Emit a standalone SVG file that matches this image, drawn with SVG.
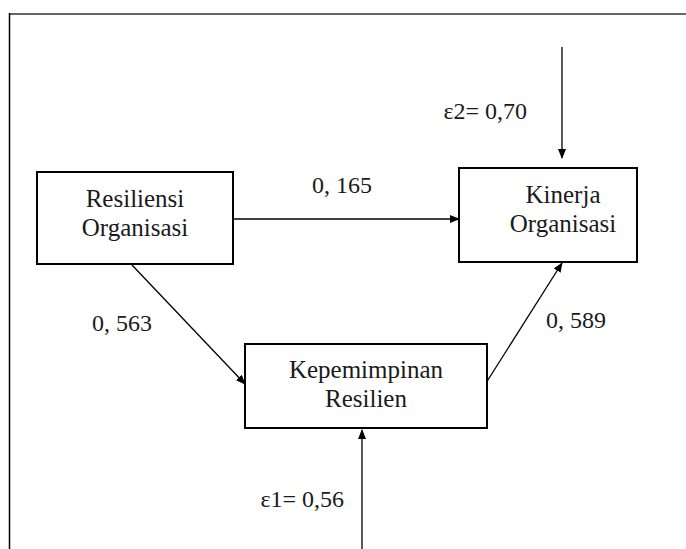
<svg xmlns="http://www.w3.org/2000/svg" width="686" height="549" viewBox="0 0 686 549">
<defs>
<marker id="ah" markerWidth="10" markerHeight="8" refX="9" refY="4" orient="auto" markerUnits="userSpaceOnUse">
<path d="M0,0 L10,4 L0,8 Z" fill="#000"/>
</marker>
<style>
.box{fill:#fff;stroke:#000;stroke-width:2}
.t{font-size:25px;fill:#1a1a1a}
.lbl{font-size:24px;fill:#1a1a1a}
.c{stroke:#000;stroke-width:1.3;fill:none;marker-end:url(#ah)}
</style>
</defs>
<rect width="686" height="549" fill="#fff"/>
<line x1="9" y1="14" x2="686" y2="14" stroke="#666" stroke-width="2"/>
<line x1="9.5" y1="13" x2="9.5" y2="549" stroke="#000" stroke-width="1.5"/>
<g id="connectors">
<line class="c" x1="233" y1="219" x2="459" y2="219"/>
<line class="c" x1="132" y1="265" x2="245" y2="384"/>
<line class="c" x1="486" y1="383" x2="562" y2="263"/>
<line class="c" x1="562" y1="47" x2="562" y2="158"/>
<line class="c" x1="362" y1="549" x2="362" y2="430"/>
</g>
<g font-family="'Liberation Serif', 'DejaVu Serif', serif">
<g id="resiliensi">
<rect class="box" x="37" y="172" width="196" height="92"/>
<text class="t" x="135" y="207" text-anchor="middle">Resiliensi</text>
<text class="t" x="135" y="236" text-anchor="middle">Organisasi</text>
</g>
<g id="kinerja">
<rect class="box" x="459" y="168" width="178" height="94"/>
<text class="t" x="563" y="203" text-anchor="middle">Kinerja</text>
<text class="t" x="563" y="232" text-anchor="middle">Organisasi</text>
</g>
<g id="kepemimpinan">
<rect class="box" x="245" y="344" width="242" height="84"/>
<text class="t" x="366" y="378" text-anchor="middle">Kepemimpinan</text>
<text class="t" x="366" y="407" text-anchor="middle">Resilien</text>
</g>
<g id="labels">
<text class="lbl" x="312" y="193">0, 165</text>
<text class="lbl" x="92" y="331">0, 563</text>
<text class="lbl" x="546" y="328">0, 589</text>
<text class="lbl" x="527" y="119" text-anchor="end">ε2= 0,70</text>
<text class="lbl" x="344" y="507" text-anchor="end">ε1= 0,56</text>
</g>
</g>
</svg>
